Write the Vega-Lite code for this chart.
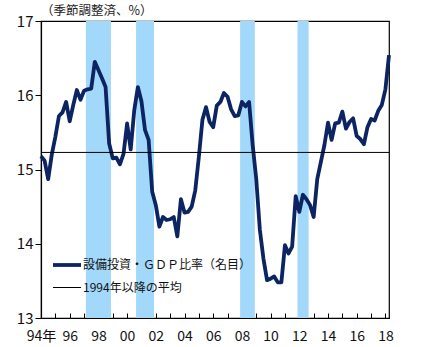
{
  "$schema": "https://vega.github.io/schema/vega-lite/v6.json",
  "width": 348,
  "height": 297,
  "autosize": "none",
  "padding": {"left": 41, "top": 21, "right": 37, "bottom": 29},
  "config": {
    "font": "Noto Sans CJK JP",
    "view": {"stroke": "#000000", "strokeWidth": 1.2}
  },
  "title": {
    "text": "（季節調整済、%）",
    "anchor": "start",
    "frame": "group",
    "fontSize": 12.5,
    "fontWeight": "normal",
    "color": "#222222",
    "offset": -3
  },
  "resolve": {"axis": {"x": "independent"}},
  "datasets": {
    "bands": [
      {"start": 1997.125, "end": 1998.875},
      {"start": 2000.625, "end": 2001.875},
      {"start": 2007.875, "end": 2008.9},
      {"start": 2011.875, "end": 2012.65}
    ],
    "series": [
      {"t": 1994.00, "v": 15.18, "s": "設備投資・ＧＤＰ比率（名目）"},
      {"t": 1994.25, "v": 15.12, "s": "設備投資・ＧＤＰ比率（名目）"},
      {"t": 1994.50, "v": 14.87, "s": "設備投資・ＧＤＰ比率（名目）"},
      {"t": 1994.75, "v": 15.20, "s": "設備投資・ＧＤＰ比率（名目）"},
      {"t": 1995.00, "v": 15.44, "s": "設備投資・ＧＤＰ比率（名目）"},
      {"t": 1995.25, "v": 15.72, "s": "設備投資・ＧＤＰ比率（名目）"},
      {"t": 1995.50, "v": 15.77, "s": "設備投資・ＧＤＰ比率（名目）"},
      {"t": 1995.75, "v": 15.91, "s": "設備投資・ＧＤＰ比率（名目）"},
      {"t": 1996.00, "v": 15.65, "s": "設備投資・ＧＤＰ比率（名目）"},
      {"t": 1996.25, "v": 15.87, "s": "設備投資・ＧＤＰ比率（名目）"},
      {"t": 1996.50, "v": 16.07, "s": "設備投資・ＧＤＰ比率（名目）"},
      {"t": 1996.75, "v": 15.94, "s": "設備投資・ＧＤＰ比率（名目）"},
      {"t": 1997.00, "v": 16.06, "s": "設備投資・ＧＤＰ比率（名目）"},
      {"t": 1997.25, "v": 16.08, "s": "設備投資・ＧＤＰ比率（名目）"},
      {"t": 1997.50, "v": 16.09, "s": "設備投資・ＧＤＰ比率（名目）"},
      {"t": 1997.75, "v": 16.45, "s": "設備投資・ＧＤＰ比率（名目）"},
      {"t": 1998.00, "v": 16.34, "s": "設備投資・ＧＤＰ比率（名目）"},
      {"t": 1998.25, "v": 16.23, "s": "設備投資・ＧＤＰ比率（名目）"},
      {"t": 1998.50, "v": 16.11, "s": "設備投資・ＧＤＰ比率（名目）"},
      {"t": 1998.75, "v": 15.35, "s": "設備投資・ＧＤＰ比率（名目）"},
      {"t": 1999.00, "v": 15.15, "s": "設備投資・ＧＤＰ比率（名目）"},
      {"t": 1999.25, "v": 15.16, "s": "設備投資・ＧＤＰ比率（名目）"},
      {"t": 1999.50, "v": 15.07, "s": "設備投資・ＧＤＰ比率（名目）"},
      {"t": 1999.75, "v": 15.21, "s": "設備投資・ＧＤＰ比率（名目）"},
      {"t": 2000.00, "v": 15.62, "s": "設備投資・ＧＤＰ比率（名目）"},
      {"t": 2000.25, "v": 15.27, "s": "設備投資・ＧＤＰ比率（名目）"},
      {"t": 2000.50, "v": 15.80, "s": "設備投資・ＧＤＰ比率（名目）"},
      {"t": 2000.75, "v": 16.11, "s": "設備投資・ＧＤＰ比率（名目）"},
      {"t": 2001.00, "v": 15.92, "s": "設備投資・ＧＤＰ比率（名目）"},
      {"t": 2001.25, "v": 15.53, "s": "設備投資・ＧＤＰ比率（名目）"},
      {"t": 2001.50, "v": 15.40, "s": "設備投資・ＧＤＰ比率（名目）"},
      {"t": 2001.75, "v": 14.70, "s": "設備投資・ＧＤＰ比率（名目）"},
      {"t": 2002.00, "v": 14.52, "s": "設備投資・ＧＤＰ比率（名目）"},
      {"t": 2002.25, "v": 14.23, "s": "設備投資・ＧＤＰ比率（名目）"},
      {"t": 2002.50, "v": 14.36, "s": "設備投資・ＧＤＰ比率（名目）"},
      {"t": 2002.75, "v": 14.32, "s": "設備投資・ＧＤＰ比率（名目）"},
      {"t": 2003.00, "v": 14.33, "s": "設備投資・ＧＤＰ比率（名目）"},
      {"t": 2003.25, "v": 14.36, "s": "設備投資・ＧＤＰ比率（名目）"},
      {"t": 2003.50, "v": 14.10, "s": "設備投資・ＧＤＰ比率（名目）"},
      {"t": 2003.75, "v": 14.60, "s": "設備投資・ＧＤＰ比率（名目）"},
      {"t": 2004.00, "v": 14.42, "s": "設備投資・ＧＤＰ比率（名目）"},
      {"t": 2004.25, "v": 14.43, "s": "設備投資・ＧＤＰ比率（名目）"},
      {"t": 2004.50, "v": 14.50, "s": "設備投資・ＧＤＰ比率（名目）"},
      {"t": 2004.75, "v": 14.72, "s": "設備投資・ＧＤＰ比率（名目）"},
      {"t": 2005.00, "v": 15.17, "s": "設備投資・ＧＤＰ比率（名目）"},
      {"t": 2005.25, "v": 15.67, "s": "設備投資・ＧＤＰ比率（名目）"},
      {"t": 2005.50, "v": 15.84, "s": "設備投資・ＧＤＰ比率（名目）"},
      {"t": 2005.75, "v": 15.64, "s": "設備投資・ＧＤＰ比率（名目）"},
      {"t": 2006.00, "v": 15.57, "s": "設備投資・ＧＤＰ比率（名目）"},
      {"t": 2006.25, "v": 15.86, "s": "設備投資・ＧＤＰ比率（名目）"},
      {"t": 2006.50, "v": 15.91, "s": "設備投資・ＧＤＰ比率（名目）"},
      {"t": 2006.75, "v": 16.03, "s": "設備投資・ＧＤＰ比率（名目）"},
      {"t": 2007.00, "v": 15.98, "s": "設備投資・ＧＤＰ比率（名目）"},
      {"t": 2007.25, "v": 15.81, "s": "設備投資・ＧＤＰ比率（名目）"},
      {"t": 2007.50, "v": 15.72, "s": "設備投資・ＧＤＰ比率（名目）"},
      {"t": 2007.75, "v": 15.73, "s": "設備投資・ＧＤＰ比率（名目）"},
      {"t": 2008.00, "v": 15.91, "s": "設備投資・ＧＤＰ比率（名目）"},
      {"t": 2008.25, "v": 15.85, "s": "設備投資・ＧＤＰ比率（名目）"},
      {"t": 2008.50, "v": 15.91, "s": "設備投資・ＧＤＰ比率（名目）"},
      {"t": 2008.75, "v": 15.33, "s": "設備投資・ＧＤＰ比率（名目）"},
      {"t": 2009.00, "v": 14.87, "s": "設備投資・ＧＤＰ比率（名目）"},
      {"t": 2009.25, "v": 14.19, "s": "設備投資・ＧＤＰ比率（名目）"},
      {"t": 2009.50, "v": 13.80, "s": "設備投資・ＧＤＰ比率（名目）"},
      {"t": 2009.75, "v": 13.51, "s": "設備投資・ＧＤＰ比率（名目）"},
      {"t": 2010.00, "v": 13.53, "s": "設備投資・ＧＤＰ比率（名目）"},
      {"t": 2010.25, "v": 13.56, "s": "設備投資・ＧＤＰ比率（名目）"},
      {"t": 2010.50, "v": 13.48, "s": "設備投資・ＧＤＰ比率（名目）"},
      {"t": 2010.75, "v": 13.48, "s": "設備投資・ＧＤＰ比率（名目）"},
      {"t": 2011.00, "v": 13.98, "s": "設備投資・ＧＤＰ比率（名目）"},
      {"t": 2011.25, "v": 13.87, "s": "設備投資・ＧＤＰ比率（名目）"},
      {"t": 2011.50, "v": 13.96, "s": "設備投資・ＧＤＰ比率（名目）"},
      {"t": 2011.75, "v": 14.64, "s": "設備投資・ＧＤＰ比率（名目）"},
      {"t": 2012.00, "v": 14.43, "s": "設備投資・ＧＤＰ比率（名目）"},
      {"t": 2012.25, "v": 14.66, "s": "設備投資・ＧＤＰ比率（名目）"},
      {"t": 2012.50, "v": 14.60, "s": "設備投資・ＧＤＰ比率（名目）"},
      {"t": 2012.75, "v": 14.52, "s": "設備投資・ＧＤＰ比率（名目）"},
      {"t": 2013.00, "v": 14.36, "s": "設備投資・ＧＤＰ比率（名目）"},
      {"t": 2013.25, "v": 14.87, "s": "設備投資・ＧＤＰ比率（名目）"},
      {"t": 2013.50, "v": 15.10, "s": "設備投資・ＧＤＰ比率（名目）"},
      {"t": 2013.75, "v": 15.33, "s": "設備投資・ＧＤＰ比率（名目）"},
      {"t": 2014.00, "v": 15.63, "s": "設備投資・ＧＤＰ比率（名目）"},
      {"t": 2014.25, "v": 15.40, "s": "設備投資・ＧＤＰ比率（名目）"},
      {"t": 2014.50, "v": 15.62, "s": "設備投資・ＧＤＰ比率（名目）"},
      {"t": 2014.75, "v": 15.63, "s": "設備投資・ＧＤＰ比率（名目）"},
      {"t": 2015.00, "v": 15.78, "s": "設備投資・ＧＤＰ比率（名目）"},
      {"t": 2015.25, "v": 15.55, "s": "設備投資・ＧＤＰ比率（名目）"},
      {"t": 2015.50, "v": 15.64, "s": "設備投資・ＧＤＰ比率（名目）"},
      {"t": 2015.75, "v": 15.69, "s": "設備投資・ＧＤＰ比率（名目）"},
      {"t": 2016.00, "v": 15.45, "s": "設備投資・ＧＤＰ比率（名目）"},
      {"t": 2016.25, "v": 15.41, "s": "設備投資・ＧＤＰ比率（名目）"},
      {"t": 2016.50, "v": 15.34, "s": "設備投資・ＧＤＰ比率（名目）"},
      {"t": 2016.75, "v": 15.57, "s": "設備投資・ＧＤＰ比率（名目）"},
      {"t": 2017.00, "v": 15.68, "s": "設備投資・ＧＤＰ比率（名目）"},
      {"t": 2017.25, "v": 15.66, "s": "設備投資・ＧＤＰ比率（名目）"},
      {"t": 2017.50, "v": 15.79, "s": "設備投資・ＧＤＰ比率（名目）"},
      {"t": 2017.75, "v": 15.87, "s": "設備投資・ＧＤＰ比率（名目）"},
      {"t": 2018.00, "v": 16.08, "s": "設備投資・ＧＤＰ比率（名目）"},
      {"t": 2018.25, "v": 16.54, "s": "設備投資・ＧＤＰ比率（名目）"},
      {"t": 1994.00, "v": 15.23, "s": "1994年以降の平均"},
      {"t": 2018.25, "v": 15.23, "s": "1994年以降の平均"}
    ]
  },
  "layer": [
    {
      "data": {"name": "bands"},
      "mark": {"type": "rect", "color": "#a2d9fb"},
      "encoding": {
        "x": {
          "field": "start",
          "type": "quantitative",
          "scale": {"domain": [1994, 2018.25], "nice": false, "zero": false},
          "axis": {
            "orient": "bottom",
            "title": null,
            "grid": false,
            "labels": false,
            "domain": false,
            "values": [1995,1997,1999,2001,2003,2005,2007,2009,2011,2013,2015,2017],
            "tickSize": -5,
            "tickColor": "#000000"
          }
        },
        "x2": {"field": "end"}
      }
    },
    {
      "data": {"name": "series"},
      "mark": {"type": "line", "strokeJoin": "round", "strokeCap": "butt"},
      "encoding": {
        "x": {
          "field": "t",
          "type": "quantitative",
          "scale": {"domain": [1994, 2018.25], "nice": false, "zero": false},
          "axis": {
            "orient": "bottom",
            "title": null,
            "grid": false,
            "values": [1994,1996,1998,2000,2002,2004,2006,2008,2010,2012,2014,2016,2018],
            "labelExpr": "datum.value == 1994 ? '94年' : slice(toString(datum.value), 2)",
            "labelFlush": false,
            "labelOverlap": false,
            "labelFontSize": 14,
            "labelColor": "#111111",
            "labelPadding": 16,
            "tickSize": -5,
            "tickColor": "#000000",
            "domainColor": "#000000",
            "domainWidth": 1.2
          }
        },
        "y": {
          "field": "v",
          "type": "quantitative",
          "scale": {"domain": [13, 17], "nice": false, "zero": false},
          "axis": {
            "title": null,
            "grid": false,
            "values": [13, 14, 15, 16, 17],
            "labelFontSize": 15,
            "labelColor": "#111111",
            "labelPadding": 2,
            "tickSize": 6,
            "tickColor": "#000000",
            "domainColor": "#000000",
            "domainWidth": 1.2
          }
        },
        "color": {
          "field": "s",
          "type": "nominal",
          "scale": {
            "domain": ["設備投資・ＧＤＰ比率（名目）", "1994年以降の平均"],
            "range": ["#0c2462", "#000000"]
          },
          "legend": {
            "title": null,
            "orient": "none",
            "legendX": 10,
            "legendY": 228,
            "symbolType": "stroke",
            "symbolSize": 784,
            "labelFontSize": 12,
            "labelColor": "#111111",
            "labelLimit": 300,
            "rowPadding": -2,
            "labelOffset": 0
          }
        },
        "strokeWidth": {
          "field": "s",
          "type": "nominal",
          "scale": {
            "domain": ["設備投資・ＧＤＰ比率（名目）", "1994年以降の平均"],
            "range": [3.8, 1]
          },
          "legend": null
        }
      }
    }
  ]
}
